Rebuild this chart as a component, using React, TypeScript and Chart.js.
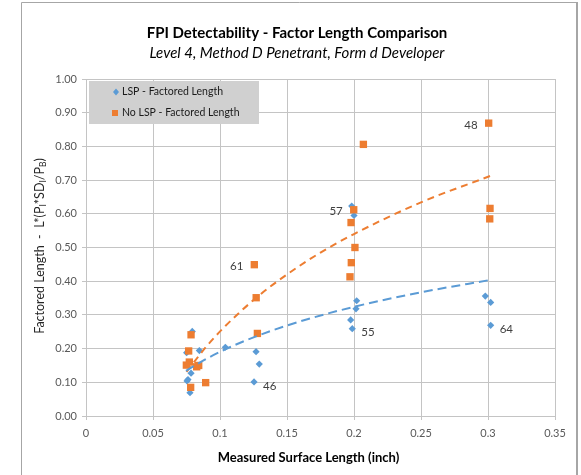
import React, { useEffect, useRef } from 'react';
import { Chart, registerables } from 'chart.js';

Chart.register(...registerables);

const titleText = 'FPI Detectability - Factor Length Comparison';
const subtitleText = 'Level 4, Method D Penetrant, Form d Developer';
const xAxisTitle = 'Measured Surface Length (inch)';
const seriesNames = ['LSP - Factored Length', 'No LSP - Factored Length'];

const lspX = [0.0793, 0.0751, 0.0846, 0.104, 0.0784, 0.0761, 0.0754, 0.0776, 0.1269, 0.1293, 0.1254,
  0.1983, 0.2, 0.202, 0.2015, 0.1975, 0.1987, 0.298, 0.302, 0.302];
const lspY = [0.251, 0.188, 0.194, 0.204, 0.127, 0.108, 0.104, 0.069, 0.191, 0.154, 0.101,
  0.623, 0.595, 0.342, 0.318, 0.285, 0.259, 0.356, 0.337, 0.269];
const lspTags = ['', '', '', '', '', '', '', '', '', '', '46',
  '', '', '', '', '', '55', '', '', '64'];

const noLspX = [0.0784, 0.0766, 0.0771, 0.0749, 0.0826, 0.0841, 0.0781, 0.0893, 0.1279, 0.127, 0.1256,
  0.207, 0.1998, 0.1978, 0.2007, 0.198, 0.197, 0.3005, 0.3015, 0.3013];
const noLspY = [0.241, 0.193, 0.16, 0.151, 0.146, 0.15, 0.085, 0.099, 0.245, 0.351, 0.449,
  0.806, 0.612, 0.574, 0.5, 0.455, 0.413, 0.869, 0.616, 0.585];
const noLspTags = ['', '', '', '', '', '', '', '', '', '', '61',
  '', '57', '', '', '', '', '48', '', ''];

const lspTrendX = [0.0746, 0.09, 0.104, 0.13, 0.16, 0.2, 0.25, 0.302];
const lspTrendY = [0.134, 0.17, 0.198, 0.241, 0.281, 0.324, 0.367, 0.404];
const noLspTrendX = [0.075, 0.09, 0.104, 0.1274, 0.15, 0.175, 0.2, 0.25, 0.3015];
const noLspTrendY = [0.131, 0.207, 0.267, 0.352, 0.42, 0.485, 0.54, 0.634, 0.712];

const xTicks = [0, 0.05, 0.1, 0.15, 0.2, 0.25, 0.3, 0.35];
const xTickLabels = ['0', '0.05', '0.1', '0.15', '0.2', '0.25', '0.3', '0.35'];
const yTicks = [0, 0.1, 0.2, 0.3, 0.4, 0.5, 0.6, 0.7, 0.8, 0.9, 1.0];
const yTickLabels = ['0.00', '0.10', '0.20', '0.30', '0.40', '0.50', '0.60', '0.70', '0.80', '0.90', '1.00'];

const BLUE = '#5B9BD5';
const ORANGE = '#ED7D31';
const FONT = 'Lato, "Open Sans", sans-serif';
const W = 581;
const H = 475;

const pts = (xs: number[], ys: number[]) => xs.map((x, i) => ({ x, y: ys[i] }));

const decor = {
  id: 'decor',
  beforeDraw(chart: any) {
    const ctx = chart.ctx;
    ctx.save();
    ctx.fillStyle = '#ffffff';
    ctx.fillRect(0, 0, W, H);
    ctx.strokeStyle = '#a6a6a6';
    ctx.lineWidth = 1;
    ctx.beginPath();
    ctx.moveTo(21.5, H);
    ctx.lineTo(21.5, 2.5);
    ctx.lineTo(577, 2.5);
    ctx.stroke();
    ctx.lineWidth = 2;
    ctx.beginPath();
    ctx.moveTo(577, 2);
    ctx.lineTo(577, H);
    ctx.stroke();
    ctx.restore();
  },
  afterDatasetsDraw(chart: any) {
    const ctx = chart.ctx;
    const xs = chart.scales.x;
    const ys = chart.scales.y;
    ctx.save();
    ctx.font = `11.5px ${FONT}`;
    ctx.fillStyle = '#404040';
    ctx.textBaseline = 'middle';
    const drawTags = (xArr: number[], yArr: number[], tags: string[], side: string) => {
      tags.forEach((t, i) => {
        if (!t) return;
        const px = xs.getPixelForValue(xArr[i]);
        const py = ys.getPixelForValue(yArr[i]);
        if (side === 'left') {
          ctx.textAlign = 'right';
          ctx.fillText(t, px - 11, py + 2);
        } else {
          ctx.textAlign = 'left';
          ctx.fillText(t, px + 9, py + 4);
        }
      });
    };
    drawTags(lspX, lspY, lspTags, 'right');
    drawTags(noLspX, noLspY, noLspTags, 'left');
    ctx.restore();
  },
  afterDraw(chart: any) {
    const ctx = chart.ctx;
    const area = chart.chartArea;
    ctx.save();
    // titles
    ctx.textAlign = 'center';
    ctx.textBaseline = 'middle';
    ctx.fillStyle = '#000000';
    ctx.font = `bold 15px ${FONT}`;
    ctx.fillText(titleText, 297, 33);
    ctx.font = `italic 15px ${FONT}`;
    ctx.fillText(subtitleText, 297, 53);
    // x axis title
    ctx.font = `bold 13px ${FONT}`;
    ctx.fillStyle = '#000000';
    ctx.fillText(xAxisTitle, (area.left + area.right) / 2 - 12, 458);
    // y axis title with subscripts
    const segs: [string, boolean][] = [
      ['Factored Length  -  L*(P', false], ['I', true], ['*SD', false], ['I', true], ['/P', false], ['B', true], [')', false],
    ];
    const big = `12.5px ${FONT}`;
    const small = `8.5px ${FONT}`;
    let total = 0;
    segs.forEach(([s, sub]) => { ctx.font = sub ? small : big; total += ctx.measureText(s).width; });
    ctx.translate(40, 246);
    ctx.rotate(-Math.PI / 2);
    ctx.textAlign = 'left';
    ctx.textBaseline = 'alphabetic';
    ctx.fillStyle = '#262626';
    let cx = -total / 2;
    segs.forEach(([s, sub]) => {
      ctx.font = sub ? small : big;
      ctx.fillText(s, cx, sub ? 6 : 4);
      cx += ctx.measureText(s).width;
    });
    ctx.setTransform(1, 0, 0, 1, 0, 0);
    // legend
    const lx = area.left + 3;
    const ly = area.top + 2;
    ctx.fillStyle = '#d0d0d0';
    ctx.fillRect(lx, ly, 170, 43);
    ctx.font = `10.5px ${FONT}`;
    ctx.textAlign = 'left';
    ctx.textBaseline = 'middle';
    const m1x = lx + 27, m1y = ly + 11;
    ctx.fillStyle = BLUE;
    ctx.beginPath();
    ctx.moveTo(m1x, m1y - 3.5);
    ctx.lineTo(m1x + 3, m1y);
    ctx.lineTo(m1x, m1y + 3.5);
    ctx.lineTo(m1x - 3, m1y);
    ctx.closePath();
    ctx.fill();
    ctx.fillStyle = '#1a1a1a';
    ctx.fillText(seriesNames[0], lx + 33, m1y);
    const m2x = lx + 26, m2y = ly + 32;
    ctx.fillStyle = ORANGE;
    ctx.fillRect(m2x - 3, m2y - 3, 6, 6);
    ctx.fillStyle = '#1a1a1a';
    ctx.fillText(seriesNames[1], lx + 33, m2y);
    ctx.restore();
  },
};

export default function App() {
  const ref = useRef<HTMLCanvasElement | null>(null);
  useEffect(() => {
    if (!ref.current) return;
    const chart = new Chart(ref.current, {
      type: 'scatter',
      data: {
        datasets: [
          {
            label: seriesNames[0],
            data: pts(lspX, lspY),
            backgroundColor: BLUE,
            borderColor: BLUE,
            pointStyle: 'rectRot',
            pointRadius: 3.6,
            borderWidth: 0,
            order: 2,
          },
          {
            label: seriesNames[1],
            data: pts(noLspX, noLspY),
            backgroundColor: ORANGE,
            borderColor: ORANGE,
            pointStyle: 'rect',
            pointRadius: 5.2,
            borderWidth: 0,
            order: 1,
          },
          {
            label: 'LSP trend',
            data: pts(lspTrendX, lspTrendY),
            showLine: true,
            borderColor: BLUE,
            borderWidth: 2,
            borderDash: [9, 5],
            pointRadius: 0,
            cubicInterpolationMode: 'monotone',
            order: 0,
          } as any,
          {
            label: 'No LSP trend',
            data: pts(noLspTrendX, noLspTrendY),
            showLine: true,
            borderColor: ORANGE,
            borderWidth: 2,
            borderDash: [7, 5],
            pointRadius: 0,
            cubicInterpolationMode: 'monotone',
            order: 0,
          } as any,
        ],
      },
      options: {
        animation: false,
        responsive: false,
        devicePixelRatio: 1,
        layout: { padding: { left: 0, top: 79, right: 26, bottom: 0 } },
        plugins: { legend: { display: false }, title: { display: false }, tooltip: { enabled: false } },
        scales: {
          x: {
            type: 'linear',
            min: 0,
            max: 0.35,
            afterBuildTicks: (s: any) => { s.ticks = xTicks.map((v) => ({ value: v })); },
            afterFit: (s: any) => { s.height = 59; },
            grid: { color: '#c4c4c4', lineWidth: 1, tickLength: 4, drawTicks: true },
            border: { color: '#c4c4c4' },
            ticks: {
              autoSkip: false,
              maxRotation: 0,
              padding: 7,
              color: '#595959',
              font: { family: FONT, size: 11 },
              callback: (_v: any, i: number) => xTickLabels[i],
            },
          },
          y: {
            type: 'linear',
            min: 0,
            max: 1,
            afterBuildTicks: (s: any) => { s.ticks = yTicks.map((v) => ({ value: v })); },
            afterFit: (s: any) => { s.width = 86; },
            grid: { color: '#c4c4c4', lineWidth: 1, tickLength: 4, drawTicks: true },
            border: { color: '#c4c4c4' },
            ticks: {
              autoSkip: false,
              padding: 5,
              color: '#595959',
              font: { family: FONT, size: 11 },
              callback: (_v: any, i: number) => yTickLabels[i],
            },
          },
        },
      },
      plugins: [decor],
    } as any);
    return () => chart.destroy();
  }, []);
  return (
    <div style={{ position: 'absolute', left: 0, top: 0, width: W, height: H, background: '#fff' }}>
      <canvas ref={ref} width={W} height={H} style={{ width: W, height: H, display: 'block' }} />
    </div>
  );
}
